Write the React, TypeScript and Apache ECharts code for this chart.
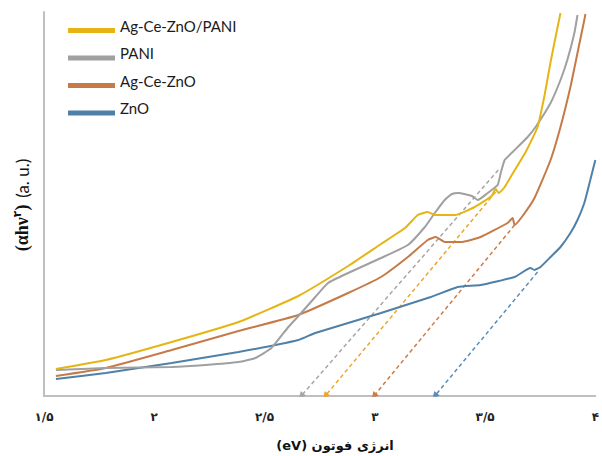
import React, { useEffect, useRef } from "react";
import * as echarts from "echarts";

const xTicks = [1.5, 2, 2.5, 3, 3.5, 4];
const legendNames = ["Ag-Ce-ZnO/PANI", "PANI", "Ag-Ce-ZnO", "ZnO"];

const agCeZnoPani: [number, number][] = [
  [1.554, 27], [1.78, 36], [2.079, 54], [2.382, 74], [2.653, 100], [2.879, 130],
  [3.028, 152], [3.137, 168], [3.195, 181], [3.24, 184], [3.272, 181], [3.363, 181],
  [3.453, 189], [3.53, 200], [3.548, 207], [3.562, 203], [3.589, 209], [3.616, 219],
  [3.684, 244], [3.738, 269], [3.77, 301], [3.797, 334], [3.828, 368], [3.842, 383],
];
const pani: [number, number][] = [
  [1.554, 26], [1.78, 28], [2.079, 29], [2.232, 31], [2.382, 34], [2.458, 38],
  [2.531, 48], [2.608, 69], [2.666, 83], [2.73, 99], [2.788, 113], [2.879, 123],
  [3.028, 138], [3.15, 151], [3.227, 169], [3.272, 183], [3.317, 196], [3.35, 202],
  [3.38, 203], [3.44, 200], [3.467, 196], [3.512, 203], [3.557, 211], [3.571, 223],
  [3.589, 236], [3.625, 244], [3.693, 259], [3.729, 269], [3.797, 293], [3.842, 316],
  [3.873, 336], [3.905, 363], [3.919, 381],
];
const agCeZno: [number, number][] = [
  [1.554, 20], [1.78, 28], [2.079, 46], [2.382, 65], [2.653, 81], [2.879, 103],
  [3.028, 119], [3.15, 139], [3.24, 156], [3.277, 159], [3.317, 154], [3.39, 154],
  [3.48, 159], [3.602, 173], [3.625, 178], [3.634, 171], [3.67, 180], [3.724, 198],
  [3.797, 236], [3.842, 269], [3.887, 309], [3.919, 343], [3.95, 376], [3.955, 382],
];
const zno: [number, number][] = [
  [1.554, 17], [1.78, 23], [2.079, 33], [2.382, 44], [2.653, 56], [2.73, 63],
  [3.028, 83], [3.254, 99], [3.376, 109], [3.48, 111], [3.634, 119], [3.706, 128],
  [3.724, 126], [3.751, 129], [3.797, 139], [3.842, 149], [3.887, 163], [3.919, 176],
  [3.95, 193], [3.977, 216], [4.0, 236],
];

const tangentPani: [number, number][] = [[3.56, 226], [2.666, 0]];
const tangentAgCeZnoPani: [number, number][] = [[3.548, 204], [2.775, 0]];
const tangentAgCeZno: [number, number][] = [[3.634, 171], [2.996, 0]];
const tangentZno: [number, number][] = [[3.738, 124], [3.272, 0]];

const COLORS = {
  yellow: "#E6B515",
  gray: "#A0A0A0",
  orange: "#C67A48",
  blue: "#4F80A8",
};

const faDigits = "۰۱۲۳۴۵۶۷۸۹";
const toFa = (v: number) =>
  String(v).replace(".", "/").replace(/\d/g, (d) => faDigits[Number(d)]);

export default function App() {
  const ref = useRef<HTMLDivElement>(null);
  useEffect(() => {
    document.body.style.margin = "0";
    if (!ref.current) return;
    const chart = echarts.init(ref.current, null, { renderer: "svg" });
    const mainLine = (name: string, data: [number, number][], color: string) => ({
      name,
      type: "line",
      data,
      smooth: 0.15,
      showSymbol: false,
      symbol: "none",
      lineStyle: { color, width: 2 },
      itemStyle: { color },
      z: 3,
    });
    const tangent = (coords: [number, number][], color: string) => ({
      type: "lines",
      coordinateSystem: "cartesian2d",
      silent: true,
      symbol: ["none", "triangle"],
      symbolSize: 7,
      lineStyle: { color, width: 1.5, type: [4, 3], opacity: 1 },
      data: [{ coords }],
      z: 2,
    });
    chart.setOption({
      animation: false,
      backgroundColor: "#ffffff",
      grid: { left: 44, right: 4, top: 12, bottom: 60 },
      legend: {
        data: legendNames,
        orient: "vertical",
        left: 68,
        top: 18,
        padding: 0,
        icon: "rect",
        itemWidth: 47,
        itemHeight: 5,
        itemGap: 1,
        formatter: (name: string) => `{t|${name}}\n{e|}`,
        textStyle: {
          rich: {
            t: { fontFamily: "Lato", fontSize: 15, color: "#1a1a1a", lineHeight: 18 },
            e: { fontSize: 10, lineHeight: 10 },
          },
        },
      },
      xAxis: {
        type: "value",
        min: xTicks[0],
        max: xTicks[xTicks.length - 1],
        interval: 0.5,
        axisLine: { show: true, lineStyle: { color: "#BFBFBF", width: 2 } },
        axisTick: { show: false },
        splitLine: { show: false },
        axisLabel: {
          formatter: (v: number) => toFa(v),
          fontFamily: "DejaVu Sans",
          fontWeight: "bold",
          fontSize: 12,
          color: "#222",
          margin: 15,
        },
      },
      yAxis: {
        type: "value",
        min: 0,
        max: 384,
        axisLine: { show: true, lineStyle: { color: "#BFBFBF", width: 2 } },
        axisTick: { show: false },
        axisLabel: { show: false },
        splitLine: { show: false },
      },
      graphic: [
        {
          type: "text",
          x: 335,
          y: 445,
          style: {
            text: "\u202Bانرژی فوتون (eV)\u202C",
            font: "bold 13px 'DejaVu Sans'",
            fill: "#111",
            textAlign: "center",
            textVerticalAlign: "middle",
          },
        },
        {
          type: "text",
          x: 22,
          y: 205,
          rotation: Math.PI / 2,
          style: {
            text: "{a|(αhν}{s|۲}{a|)}  {b|(a. u.)}",
            textAlign: "center",
            textVerticalAlign: "middle",
            rich: {
              a: { font: "bold 18px 'Liberation Serif'", fill: "#111" },
              s: { font: "bold 11px 'DejaVu Sans'", fill: "#111", verticalAlign: "top", padding: [0, 0, 10, 0] },
              b: { font: "17px 'Lato'", fill: "#111" },
            },
          },
        },
      ],
      series: [
        tangent(tangentPani, "#A6A6A6"),
        tangent(tangentAgCeZnoPani, "#EDA52E"),
        tangent(tangentAgCeZno, "#D07A45"),
        tangent(tangentZno, "#5A8CBA"),
        mainLine("ZnO", zno, COLORS.blue),
        mainLine("Ag-Ce-ZnO", agCeZno, COLORS.orange),
        mainLine("PANI", pani, COLORS.gray),
        mainLine("Ag-Ce-ZnO/PANI", agCeZnoPani, COLORS.yellow),
      ],
    });
    return () => chart.dispose();
  }, []);
  return <div ref={ref} style={{ width: 602, height: 456 }} />;
}
